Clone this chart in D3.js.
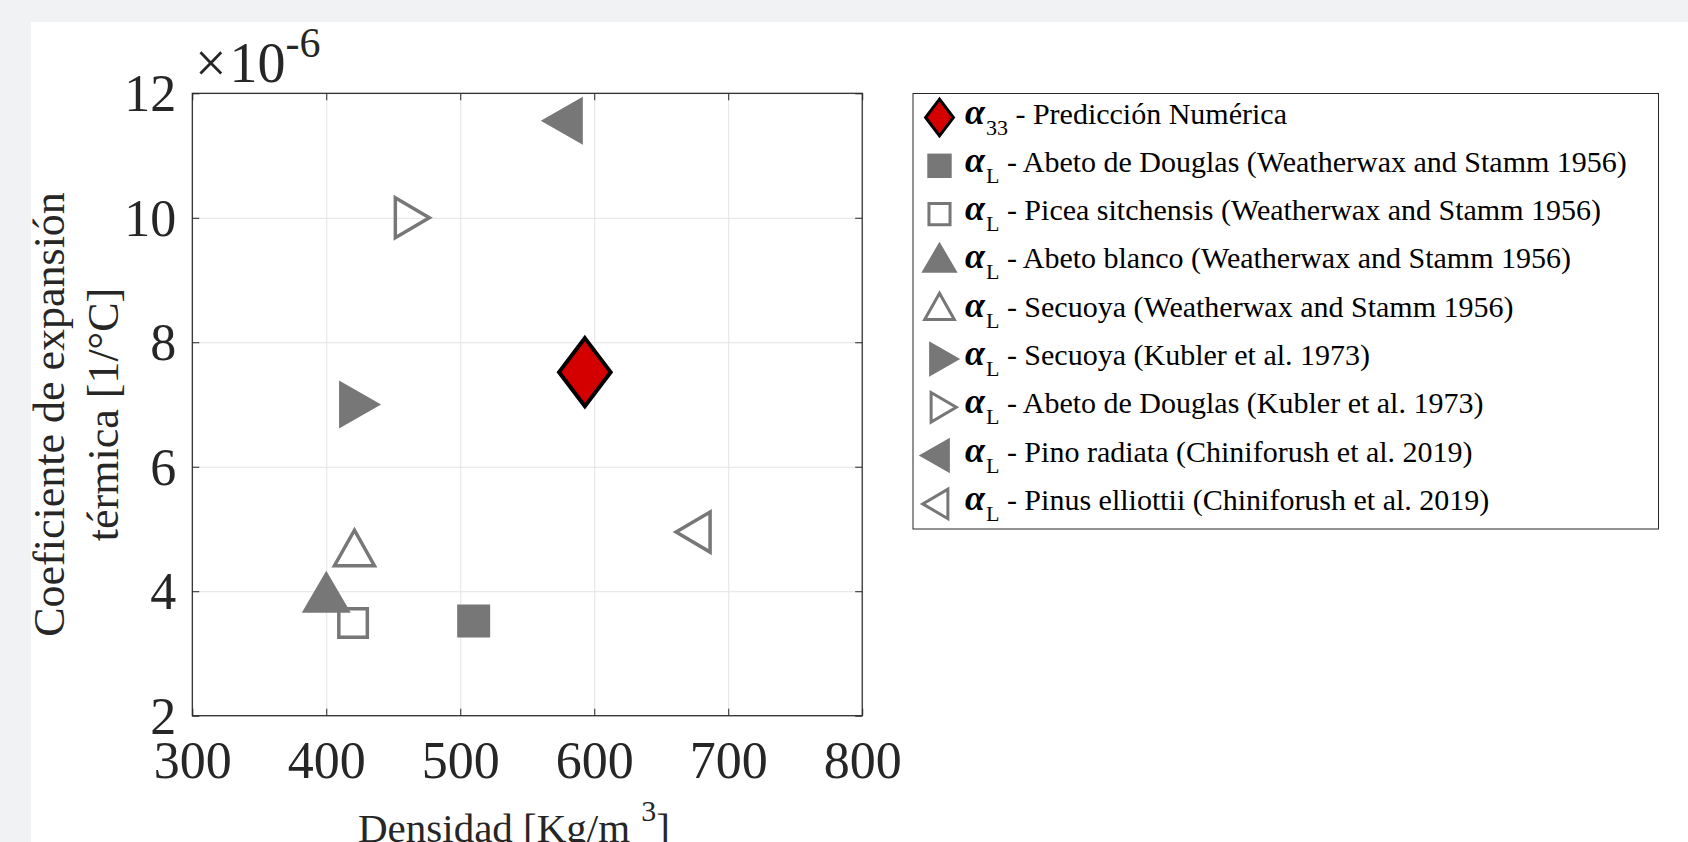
<!DOCTYPE html>
<html>
<head>
<meta charset="utf-8">
<script src="https://cdn.jsdelivr.net/npm/d3@7"></script>
<style>
  html, body { margin: 0; padding: 0; background: #f1f2f4; overflow: hidden; }
  svg { display: block; }
</style>
</head>
<body>
<svg id="chart" width="1688" height="842"></svg>
<script>
// series, in legend order
const subscripts = ["33", "L", "L", "L", "L", "L", "L", "L", "L"];
const seriesLabels = [
  "Predicción Numérica",
  "Abeto de Douglas (Weatherwax and Stamm 1956)",
  "Picea sitchensis (Weatherwax and Stamm 1956)",
  "Abeto blanco (Weatherwax and Stamm 1956)",
  "Secuoya (Weatherwax and Stamm 1956)",
  "Secuoya (Kubler et al. 1973)",
  "Abeto de Douglas (Kubler et al. 1973)",
  "Pino radiata (Chiniforush et al. 2019)",
  "Pinus elliottii (Chiniforush et al. 2019)"
];
const densities = [593, 510, 420, 400, 421, 420, 460, 581, 678];           // kg/m3
const coefficients = [7.52e-6, 3.52e-6, 3.49e-6, 3.88e-6, 4.6e-6, 7.0e-6, 10.0e-6, 11.56e-6, 4.95e-6]; // 1/°C
const markerShapes = ["diamond", "square", "square", "up", "up", "right", "right", "left", "left"];
const markerFilled = [true, true, false, true, false, true, false, true, false];

const xTicks = [300, 400, 500, 600, 700, 800];
const yTicks = [2e-6, 4e-6, 6e-6, 8e-6, 10e-6, 12e-6];

const W = 1688, H = 842;
const L = 192.3, R = 862.2, T = 93.3, B = 715.7;
const INK = "#262626", GRAY = "#777777", RED = "#d40000";
const FONT = "'Liberation Serif', 'Times New Roman', serif";

const svg = d3.select("#chart").attr("viewBox", `0 0 ${W} ${H}`);

// card
svg.append("rect").attr("x", 31).attr("y", 22).attr("width", W - 31).attr("height", H - 22).attr("fill", "#fff");

const x = d3.scaleLinear().domain([300, 800]).range([L, R]);
const y = d3.scaleLinear().domain([2e-6, 12e-6]).range([B, T]);

// grid
svg.append("g").attr("transform", `translate(0,${B})`)
  .call(d3.axisBottom(x).tickValues(xTicks).tickSize(-(B - T)).tickFormat(""))
  .call(g => { g.select(".domain").remove(); g.selectAll("line").attr("stroke", "#e3e3e3"); });
svg.append("g").attr("transform", `translate(${L},0)`)
  .call(d3.axisLeft(y).tickValues(yTicks).tickSize(-(R - L)).tickFormat(""))
  .call(g => { g.select(".domain").remove(); g.selectAll("line").attr("stroke", "#e3e3e3"); });

// marker geometry, anchored like matlab (triangles at centroid)
function markerPath(shape, filled, k) {
  let p;
  if (shape === "diamond") {
    const hw = 25.8 * k, hh = 34 * k;
    p = [[0, -hh], [hw, 0], [0, hh], [-hw, 0]];
  } else if (shape === "square") {
    const s = (filled ? 33 : 28.5) * k / 2;
    p = [[-s, -s], [s, -s], [s, s], [-s, s]];
  } else if (shape === "up") {
    const w = (filled ? 49 : 40) * k, h = (filled ? 42 : 35.5) * k;
    p = [[0, -2 * h / 3], [w / 2, h / 3], [-w / 2, h / 3]];
  } else {
    const len = (filled ? 42 : 34) * k, base = (filled ? 48 : 40) * k;
    const dir = shape === "right" ? 1 : -1;
    p = [[dir * 2 * len / 3, 0], [-dir * len / 3, base / 2], [-dir * len / 3, -base / 2]];
  }
  return "M" + p.map(q => q.join(",")).join("L") + "Z";
}
function styleMarker(sel, i, strokeW) {
  const shape = markerShapes[i];
  if (shape === "diamond") {
    sel.attr("fill", RED).attr("stroke", "#000").attr("stroke-width", strokeW.diamond);
  } else if (markerFilled[i]) {
    sel.attr("fill", GRAY).attr("stroke", "none");
  } else {
    sel.attr("fill", "none").attr("stroke", GRAY).attr("stroke-width", strokeW.open);
  }
  sel.attr("stroke-linejoin", "miter");
}

// points
const idx = d3.range(densities.length);
svg.append("g").selectAll("path").data(idx).join("path")
  .attr("transform", i => `translate(${x(densities[i])},${y(coefficients[i])})`)
  .attr("d", i => markerPath(markerShapes[i], markerFilled[i], 1))
  .each(function (i) { styleMarker(d3.select(this), i, { diamond: 4, open: 3.5 }); });

// axes (ticks inward on all sides)
function styleAxis(g) {
  g.select(".domain").remove();
  g.selectAll("line").attr("stroke", INK);
  g.selectAll("text").attr("fill", INK).style("font-family", FONT).style("font-size", "52px");
}
svg.append("g").attr("transform", `translate(0,${B})`)
  .call(d3.axisBottom(x).tickValues(xTicks).tickSize(-7).tickFormat(d3.format("d")))
  .call(styleAxis)
  .call(g => g.selectAll("text").attr("y", 62.3).attr("dy", 0));
svg.append("g").attr("transform", `translate(${L},0)`)
  .call(d3.axisLeft(y).tickValues(yTicks).tickSize(-7).tickFormat(d => Math.round(d * 1e6)))
  .call(styleAxis)
  .call(g => g.selectAll("text").attr("x", -16).attr("dy", "0.34em"));
svg.append("g").attr("transform", `translate(0,${T})`)
  .call(d3.axisTop(x).tickValues(xTicks).tickSize(-7).tickFormat(""))
  .call(styleAxis);
svg.append("g").attr("transform", `translate(${R},0)`)
  .call(d3.axisRight(y).tickValues(yTicks).tickSize(-7).tickFormat(""))
  .call(styleAxis);

svg.append("rect").attr("x", L).attr("y", T).attr("width", R - L).attr("height", B - T)
  .attr("fill", "none").attr("stroke", INK).attr("stroke-width", 1.2);

// exponent
const ex = svg.append("text").attr("x", 195).attr("y", 81.7).attr("fill", INK)
  .style("font-family", FONT).style("font-size", "56px");
ex.append("tspan").text("×");
ex.append("tspan").attr("dx", 3).text("10");
ex.append("tspan").attr("dy", -25).style("font-size", "42px").text("-6");

// axis labels
const xl = svg.append("text").attr("x", 358).attr("y", 842).attr("fill", INK)
  .style("font-family", FONT).style("font-size", "41px");
xl.append("tspan").text("Densidad [Kg/m");
xl.append("tspan").attr("dx", 11).attr("dy", -21).style("font-size", "30px").text("3");
xl.append("tspan").attr("dy", 21).text("]");

const yl = svg.append("text").attr("transform", "translate(0,414.5) rotate(-90)")
  .attr("text-anchor", "middle").attr("fill", INK)
  .style("font-family", FONT).style("font-size", "44px");
yl.append("tspan").attr("x", 0).attr("y", 64).text("Coeficiente de expansión");
yl.append("tspan").attr("x", 0).attr("y", 118).text("térmica [1/°C]");

// legend
svg.append("rect").attr("x", 913).attr("y", 93.5).attr("width", 745.5).attr("height", 435.5)
  .attr("fill", "#fff").attr("stroke", INK).attr("stroke-width", 1);
const rowY = i => 117.5 + 48.3 * i;
const lg = svg.append("g").selectAll("g").data(idx).join("g");
lg.append("path")
  .attr("transform", i => `translate(939.5,${rowY(i)})`)
  .attr("d", i => markerPath(markerShapes[i], markerFilled[i], markerShapes[i] === "diamond" ? 0.54 : 0.74))
  .each(function (i) { styleMarker(d3.select(this), i, { diamond: 3, open: 3 }); });
const lt = lg.append("text").attr("x", 965).attr("y", i => rowY(i) + 6).attr("fill", "#000")
  .style("font-family", FONT).style("font-size", "30px");
lt.append("tspan").style("font-weight", "bold").style("font-style", "italic").style("font-size", "36px").text("α");
lt.append("tspan").attr("dx", 1).attr("dy", 11).style("font-size", "22px").text(i => subscripts[i]);
lt.append("tspan").attr("dy", -11).attr("xml:space", "preserve").text(i => " - " + seriesLabels[i]);
</script>
</body>
</html>
